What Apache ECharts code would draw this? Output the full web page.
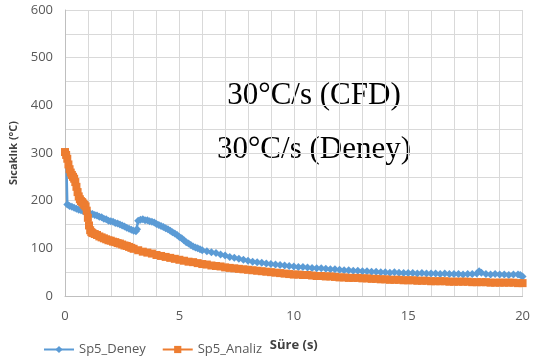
<!DOCTYPE html>
<html><head><meta charset="utf-8">
<script src="https://cdn.jsdelivr.net/npm/echarts@6/dist/echarts.min.js"></script>
<style>html,body{margin:0;padding:0;background:#fff}#c{width:533px;height:360px}</style>
</head><body><div id="c"></div>
<script>
const xTicks = [0, 5, 10, 15, 20];
const yTicks = [0, 100, 200, 300, 400, 500, 600];
const seriesNames = ['Sp5_Deney', 'Sp5_Analiz'];
const annotations = ['30°C/s (CFD)', '30°C/s (Deney)'];

const tDeney = [0,0.05,0.1,0.2,0.3,0.4,0.5,0.6,0.7,0.8,0.9,1.0,1.1,1.2,1.3,1.4,1.5,1.6,1.7,1.8,1.9,2.0,2.1,2.2,2.3,2.4,2.5,2.6,2.7,2.8,2.9,3.0,3.1,3.15,3.2,3.3,3.4,3.5,3.6,3.7,3.8,3.9,4.0,4.1,4.2,4.3,4.4,4.5,4.6,4.7,4.8,4.9,5.0,5.1,5.2,5.3,5.4,5.5,5.6,5.7,5.8,5.9,6.0,6.2,6.4,6.6,6.8,7.0,7.2,7.4,7.6,7.8,8.0,8.2,8.4,8.6,8.8,9.0,9.2,9.4,9.6,9.8,10.0,10.2,10.4,10.6,10.8,11.0,11.2,11.4,11.6,11.8,12.0,12.2,12.4,12.6,12.8,13.0,13.2,13.4,13.6,13.8,14.0,14.2,14.4,14.6,14.8,15.0,15.2,15.4,15.6,15.8,16.0,16.2,16.4,16.6,16.8,17.0,17.2,17.4,17.6,17.8,18.0,18.1,18.2,18.4,18.6,18.8,19.0,19.2,19.4,19.6,19.8,19.9,20.0];
const deney = [302,296,192,189,187,185,183,181,180,178,177,176,173,172,170,169,166,165,162,161,158,157,156,153,152,150,148,146,143,141,139,137,136,140,158,160,161,159,159,157,156,154,151,149,147,145,142,140,137,134,131,128,124,121,117,113,110,107,104,102,100,98,96,94,92,90,87,85,82,80,78,76,74,72,71,70,68,67,66,65,64,63,62,61,61,60,59,58,58,57,56,56,55,54,54,53,53,52,52,51,51,50,50,49,50,49,48,48,48,47,48,47,47,47,46,47,46,46,46,45,46,46,47,52,49,46,45,46,45,45,44,45,45,44,41];

const tAnaliz = [0,0.05,0.1,0.15,0.2,0.25,0.3,0.35,0.4,0.45,0.5,0.55,0.6,0.65,0.7,0.75,0.8,0.85,0.9,0.95,1.0,1.05,1.1,1.15,1.2,1.3,1.4,1.5,1.6,1.7,1.8,1.9,2.0,2.1,2.2,2.3,2.4,2.5,2.6,2.7,2.8,2.9,3.0,3.2,3.4,3.6,3.8,4.0,4.2,4.4,4.6,4.8,5.0,5.2,5.4,5.6,5.8,6.0,6.2,6.4,6.6,6.8,7.0,7.2,7.4,7.6,7.8,8.0,8.2,8.4,8.6,8.8,9.0,9.2,9.4,9.6,9.8,10.0,10.2,10.4,10.6,10.8,11.0,11.2,11.4,11.6,11.8,12.0,12.2,12.4,12.6,12.8,13.0,13.2,13.4,13.6,13.8,14.0,14.2,14.4,14.6,14.8,15.0,15.2,15.4,15.6,15.8,16.0,16.2,16.4,16.6,16.8,17.0,17.2,17.4,17.6,17.8,18.0,18.2,18.4,18.6,18.8,19.0,19.2,19.4,19.6,19.8,20.0];
const analiz = [302,296,288,276,266,259,254,250,246,239,229,218,209,203,199,197,194,191,188,179,164,148,138,134,132,130,128,125,123,121,119,117,116,114,113,111,110,108,106,105,103,101,99,96,93,91,89,86,84,82,80,78,76,74,72,71,69,67,66,64,63,62,60,59,58,57,56,55,54,53,52,51,50,49,48,47,46,45,45,44,44,43,42,42,41,41,40,39,39,38,38,38,37,37,36,36,35,35,34,34,34,33,33,33,32,32,32,31,31,31,31,30,30,30,30,30,29,29,29,29,28,28,28,28,28,28,27,27];

const zip = (t, v) => t.map((x, i) => [x, v[i]]);
const txt = '#595959';
const chart = echarts.init(document.getElementById('c'), null, {renderer: 'canvas'});
chart.setOption({
  animation: false,
  grid: {left: 64, right: 9, top: 10, bottom: 64, containLabel: false},
  xAxis: {
    type: 'value', min: 0, max: 20, interval: 1,
    name: 'Süre (s)', nameLocation: 'middle', nameGap: 43,
    nameTextStyle: {fontFamily: 'Open Sans', fontWeight: 'bold', fontSize: 13, color: '#404040'},
    axisLine: {show: true, lineStyle: {color: '#bfbfbf'}},
    axisTick: {show: false},
    axisLabel: {fontFamily: 'Open Sans', fontSize: 13, color: txt, margin: 14,
      formatter: v => xTicks.includes(v) ? String(v) : ''},
    splitLine: {show: true, lineStyle: {color: '#d9d9d9', width: 1}}
  },
  yAxis: {
    type: 'value', min: 0, max: 600, interval: 50,
    name: 'Sıcaklık (°C)', nameLocation: 'middle', nameGap: 46,
    nameTextStyle: {fontFamily: 'Open Sans', fontWeight: 'bold', fontSize: 11, color: '#404040'},
    axisLine: {show: true, lineStyle: {color: '#bfbfbf'}},
    axisTick: {show: false},
    axisLabel: {fontFamily: 'Open Sans', fontSize: 13, color: txt, margin: 12,
      formatter: v => yTicks.includes(v) ? String(v) : ''},
    splitLine: {show: true, lineStyle: {color: '#d9d9d9', width: 1}}
  },
  legend: {
    left: 38, top: 338, itemWidth: 30, itemHeight: 9, itemGap: 16,
    textStyle: {fontFamily: 'Open Sans', fontSize: 13, color: txt},
    data: seriesNames
  },
  graphic: [
    {type: 'text', x: 314, y: 96, style: {text: annotations[0], fontFamily: 'Liberation Serif', fontSize: 31, fill: '#000', textAlign: 'center', textVerticalAlign: 'middle', verticalAlign: 'middle'}},
    {type: 'text', x: 314, y: 150, style: {text: annotations[1], fontFamily: 'Liberation Serif', fontSize: 31, fill: '#000', textAlign: 'center', textVerticalAlign: 'middle', verticalAlign: 'middle'}}
  ],
  series: [
    {name: seriesNames[0], type: 'line', data: zip(tDeney, deney), showAllSymbol: true,
      symbol: 'diamond', symbolSize: 8, color: '#5B9BD5',
      lineStyle: {width: 2.5, color: '#5B9BD5'}, itemStyle: {color: '#5B9BD5'}},
    {name: seriesNames[1], type: 'line', data: zip(tAnaliz, analiz), showAllSymbol: true,
      symbol: 'rect', symbolSize: 8, color: '#ED7D31',
      lineStyle: {width: 4, color: '#ED7D31'}, itemStyle: {color: '#ED7D31'}}
  ]
});
</script></body></html>
